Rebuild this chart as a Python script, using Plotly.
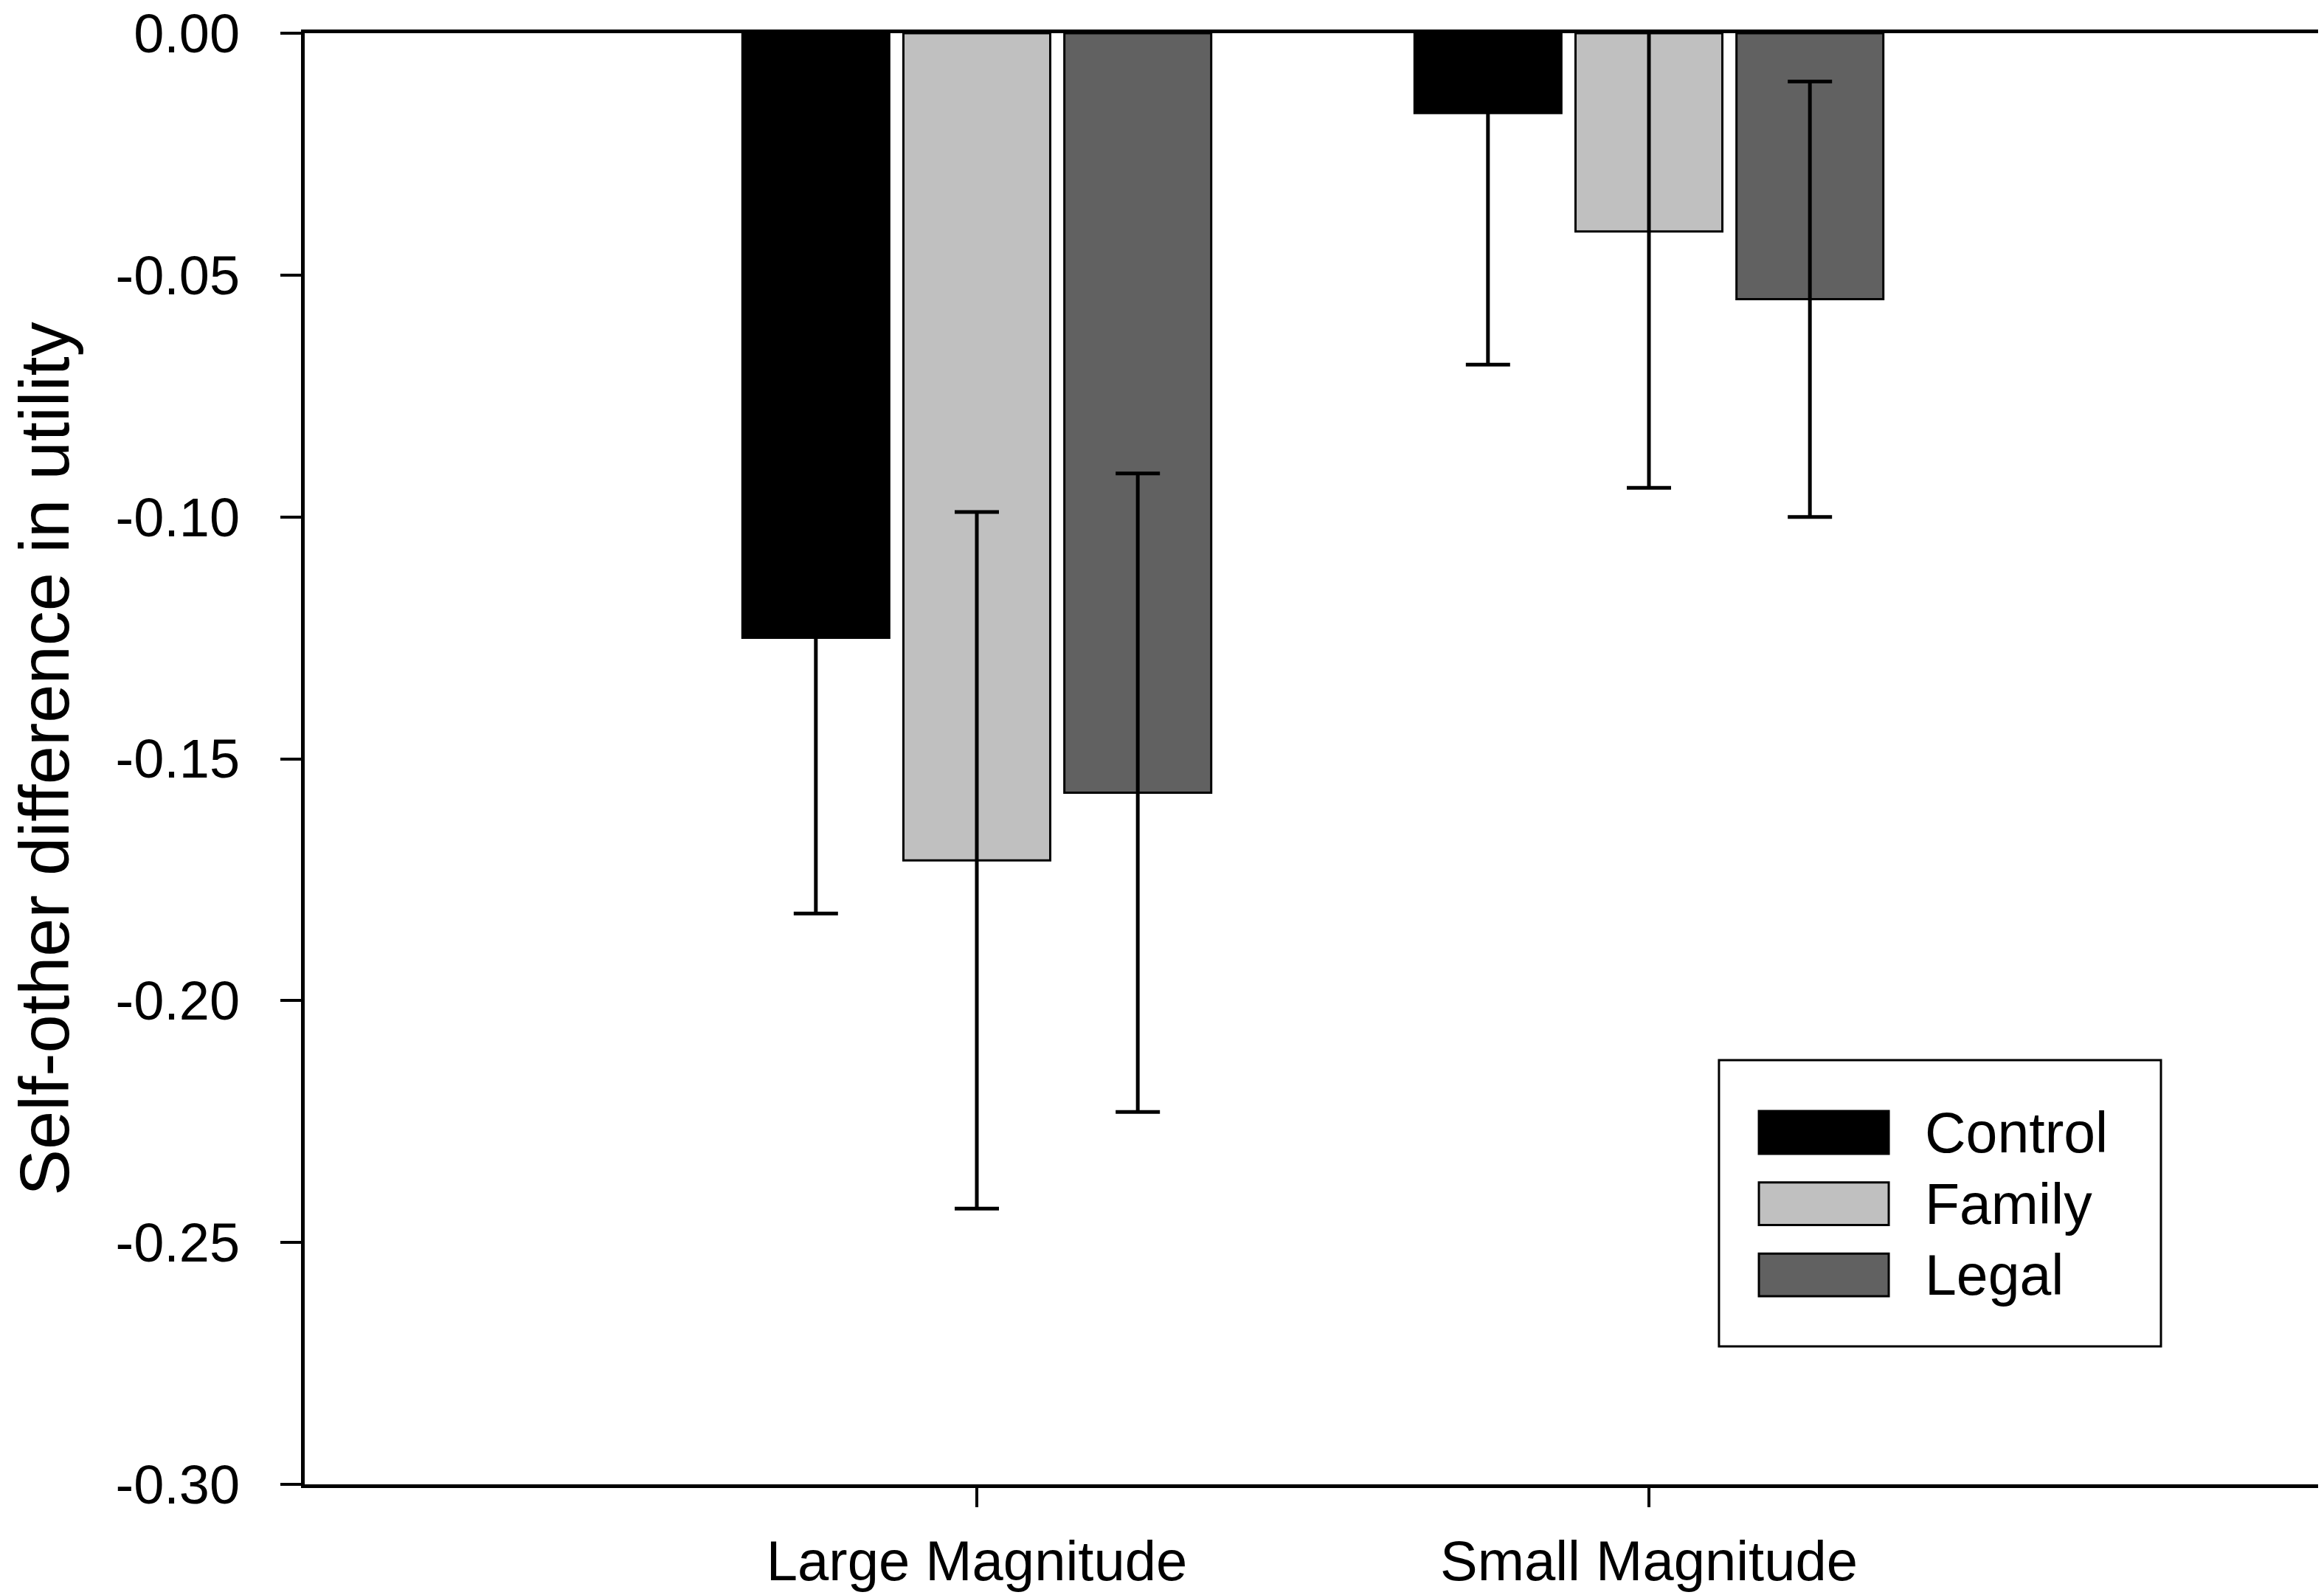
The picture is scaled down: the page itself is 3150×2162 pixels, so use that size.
import plotly.graph_objects as go

# ---- data ----
categories = ["Large Magnitude", "Small Magnitude"]
series_names = ["Control", "Family", "Legal"]
control_means = [-0.125, -0.0165]
family_means = [-0.171, -0.041]
legal_means = [-0.157, -0.055]
control_err = [0.057, 0.052]
family_err = [0.072, 0.053]
legal_err = [0.066, 0.045]
y_tick_vals = [0.00, -0.05, -0.10, -0.15, -0.20, -0.25, -0.30]
y_tick_text = ["0.00", "-0.05", "-0.10", "-0.15", "-0.20", "-0.25", "-0.30"]

series_means = [control_means, family_means, legal_means]
series_errs = [control_err, family_err, legal_err]
series_colors = ["#000000", "#c0c0c0", "#616161"]

FONT = "Liberation Sans, Arial, Helvetica, sans-serif"

fig = go.Figure()
for name, means, errs, color in zip(series_names, series_means, series_errs, series_colors):
    fig.add_trace(go.Bar(
        name=name,
        x=categories,
        y=means,
        marker=dict(color=color, line=dict(color="black", width=3)),
        error_y=dict(type="data", array=errs, symmetric=True,
                     color="black", thickness=5, width=30),
        showlegend=False,
    ))

# ---- hand-built legend (large swatches like the reference) ----
box_x0, box_x1 = 0.7014, 0.9206
box_y0, box_y1 = 0.0951, 0.2923
sw_x0, sw_x1 = 0.7212, 0.7856
row_top = 0.2572
row_h = 0.0294
row_step = 0.0491
text_x = 0.8028

shapes = [dict(type="rect", xref="paper", yref="paper",
               x0=box_x0, x1=box_x1, y0=box_y0, y1=box_y1,
               line=dict(color="black", width=3), fillcolor="white", layer="above")]
annotations = []
for i, (name, color) in enumerate(zip(series_names, series_colors)):
    top = row_top - i * row_step
    shapes.append(dict(type="rect", xref="paper", yref="paper",
                       x0=sw_x0, x1=sw_x1, y0=top - row_h, y1=top,
                       line=dict(color="black", width=3), fillcolor=color, layer="above"))
    annotations.append(dict(xref="paper", yref="paper", x=text_x, y=top - row_h / 2,
                            text=name, showarrow=False, xanchor="left", yanchor="middle",
                            font=dict(family=FONT, size=77, color="black")))

fig.update_layout(
    width=3150, height=2162,
    margin=dict(l=405, r=12, t=37, b=158, autoexpand=False),
    paper_bgcolor="white", plot_bgcolor="white",
    barmode="group", bargap=0.2815, bargroupgap=0.0877,
    font=dict(family=FONT, color="black"),
    shapes=shapes, annotations=annotations,
    showlegend=False,
)
fig.update_xaxes(
    range=[-1, 2], showline=True, linecolor="black", linewidth=5, mirror=True,
    ticks="outside", ticklen=26, tickwidth=4, tickcolor="black",
    tickfont=dict(family=FONT, size=76), ticklabelstandoff=8,
    ticklabeloverflow="allow",
    showgrid=False, zeroline=False,
)
fig.update_yaxes(
    range=[-0.30, 0.0], showline=True, linecolor="black", linewidth=5, mirror=True,
    ticks="outside", ticklen=28, tickwidth=4, tickcolor="black",
    tickvals=y_tick_vals, ticktext=y_tick_text,
    tickfont=dict(family=FONT, size=74), ticklabelstandoff=40,
    ticklabeloverflow="allow",
    showgrid=False, zeroline=False,
    title=dict(text="Self-other difference in utility", font=dict(family=FONT, size=94), standoff=70),
)

fig.write_html("out.html")
